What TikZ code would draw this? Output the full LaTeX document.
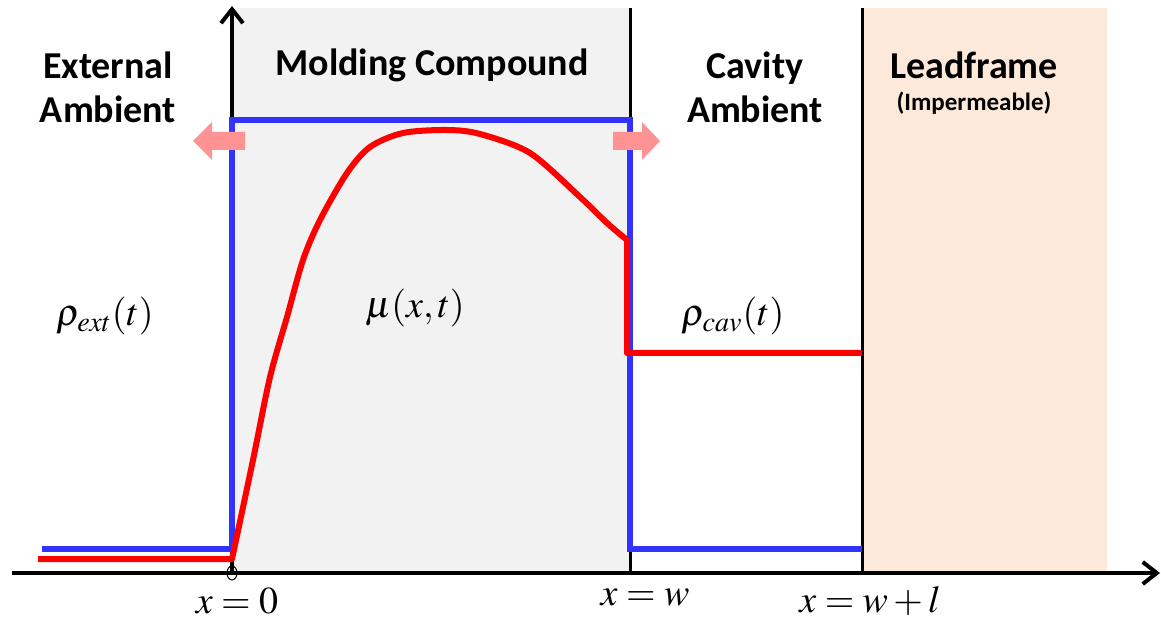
\documentclass[tikz,border=0pt]{standalone}
\usepackage{mathptmx}
\usepackage[no-math]{fontspec}
\setmainfont{Carlito}
\usetikzlibrary{arrows.meta}
\definecolor{MoldGray}{HTML}{F2F2F2}
\definecolor{LeadPeach}{HTML}{FCE9DA}
\definecolor{ConcBlue}{HTML}{3333FF}
\definecolor{FluxPink}{HTML}{FF9393}

\begin{document}
\begin{tikzpicture}[
  x=0.5pt, y=-0.5pt,
  region/.style={font=\bfseries\fontsize{19}{22}\selectfont,align=center,inner sep=0pt},
  note/.style={font=\bfseries\fontsize{12.5}{14}\selectfont,inner sep=0pt},
  mathlbl/.style={font=\fontsize{19}{22}\selectfont,inner sep=0pt},
  axis/.style={line width=2pt,-{Straight Barb[length=7pt,width=11pt,line width=2pt]}},
  wall/.style={line width=1.5pt},
  conc/.style={ConcBlue,line width=3pt},
  dens/.style={red,line width=3pt,line join=round},
  flux/.style={fill=FluxPink}
]
  \useasboundingbox (0,0) rectangle (1161,619);

  % regions
  \fill[MoldGray] (232,8) rectangle (630,573);
  \fill[LeadPeach] (862,8) rectangle (1107,573);
  \draw[wall] (630,8) -- (630,573);
  \draw[wall] (862,8) -- (862,573);

  % axes
  \coordinate (xstart) at (12,573);
  \coordinate (xend) at (1160,573);
  \coordinate (O) at (232,573);
  \coordinate (yend) at (232,6);
  \draw[axis] (xstart) -- (xend);
  \draw[axis] (O) -- (yend);
  \draw[line width=0.5pt] (O) ellipse [x radius=5, y radius=7];

  % concentration and density profiles
  \draw[conc] (42,549) -- (232,549) -- (232,120) -- (630,120) -- (630,549) -- (862,549);
  \draw[dens] (38,559) -- (232,559)
    -- plot[smooth,tension=0.5] coordinates {(232,559) (253,460) (270,377) (287,317) (303,260) (320,220)
      (347,173) (370,147) (403,133) (447,130) (480,134) (530,153) (580,197) (607,223) (627,240)}
    -- (627,353) -- (862,353);

  % flux arrows
  \fill[flux] (245,132) -- (212,132) -- (212,122) -- (193,141) -- (212,160) -- (212,150) -- (245,150) -- cycle;
  \fill[flux] (613,132) -- (642,132) -- (642,122) -- (660,141) -- (642,160) -- (642,150) -- (613,150) -- cycle;

  % region titles
  \node[region] (ext) at (108,87) {External\\Ambient};
  \node[region] (mold) at (432,65) {Molding Compound};
  \node[region] (cav) at (755,87) {Cavity\\Ambient};
  \node[region] (lead) at (974,65) {Leadframe};
  \node[note] (imp) at (974,103) {(Impermeable)};

  % quantities
  \node[mathlbl] (rhoext) at (105,316) {$\rho_{ext}(t)$};
  \node[mathlbl] (mu) at (415,308) {$\mu(x,t)$};
  \node[mathlbl] (rhocav) at (733,316) {$\rho_{cav}(t)$};

  % positions on the x axis
  \node[mathlbl] (x0) at (237,601) {$x=0$};
  \node[mathlbl] (xw) at (645,598) {$x=w$};
  \node[mathlbl] (xwl) at (870,601) {$x=w+l$};
\end{tikzpicture}
\end{document}
